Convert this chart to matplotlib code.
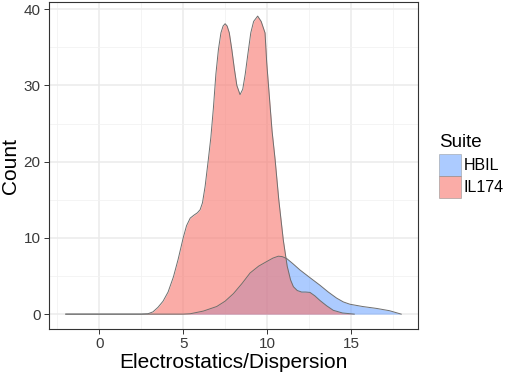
import matplotlib
matplotlib.use("Agg")
from matplotlib import pyplot as plt
from matplotlib.patches import Patch
from matplotlib.ticker import MultipleLocator

plt.rcParams['font.family'] = ['Liberation Sans', 'DejaVu Sans']

# IL174 curve (x, count)
il_x = [-2.0, 2.5, 2.9, 3.2, 3.5, 3.8, 4.1, 4.42, 4.7, 5.0, 5.2, 5.42, 5.65, 5.85,
        6.01, 6.15, 6.31, 6.5, 6.65, 6.8, 6.95, 7.1, 7.25, 7.38, 7.5, 7.62, 7.75,
        7.9, 8.05, 8.2, 8.39, 8.55, 8.7, 8.85, 9.03, 9.2, 9.44, 9.65, 9.88, 9.98,
        10.15, 10.3, 10.48, 10.7, 10.97, 11.2, 11.4, 11.57, 11.8, 12.06, 12.3,
        12.56, 12.85, 13.15, 13.55, 13.95, 14.5, 15.2]
il_y = [0.0, 0.0, 0.05, 0.3, 0.9, 1.7, 2.9, 4.9, 7.2, 10.0, 11.6, 12.6, 13.0, 13.3,
        13.7, 14.6, 16.8, 20.3, 23.2, 27.0, 31.5, 34.7, 36.9, 37.8, 38.1, 37.8, 36.9,
        34.7, 32.2, 30.0, 28.8, 29.5, 31.5, 34.0, 36.9, 38.4, 39.1, 38.4, 36.9, 33.0,
        28.2, 24.0, 20.3, 15.0, 9.7, 6.3, 4.5, 3.6, 3.1, 2.9, 2.9,
        2.85, 2.4, 1.8, 1.1, 0.5, 0.15, 0.0]

# HBIL curve (x, count)
hb_x = [-2.0, 5.0, 5.42, 6.2, 7.0, 7.5, 8.0, 8.5, 8.99, 9.5, 9.98, 10.35, 10.67,
        10.9, 11.17, 11.55, 11.96, 12.55, 13.15, 13.65, 14.15, 14.55, 14.94, 15.7,
        16.53, 17.3, 18.0]
hb_y = [0.0, 0.0, 0.05, 0.4, 1.0, 1.7, 2.7, 4.0, 5.4, 6.3, 6.9, 7.35, 7.6,
        7.55, 7.3, 6.6, 5.8, 4.8, 3.8, 2.9, 2.1, 1.6, 1.3, 1.0,
        0.75, 0.45, 0.0]

suites = ['HBIL', 'IL174']
fills = ['#619CFF', '#F8766D']
alphas = [0.52, 0.6]

fig = plt.figure(figsize=(5.1, 3.76), dpi=100)
ax = fig.add_axes([49 / 510, 1 - 329 / 376, (418 - 49) / 510, (329 - 2) / 376])

ax.fill_between(hb_x, hb_y, color=fills[0], alpha=alphas[0], linewidth=0, zorder=2)
ax.plot(hb_x, hb_y, color='#6E6E6E', linewidth=0.7, zorder=3)
ax.fill_between(il_x, il_y, color=fills[1], alpha=alphas[1], linewidth=0, zorder=2)
ax.plot(il_x, il_y, color='#6E6E6E', linewidth=0.7, zorder=3)

ax.set_xlim(-3, 19)
ax.set_ylim(-1.95, 40.95)
ax.xaxis.set_major_locator(MultipleLocator(5))
ax.xaxis.set_minor_locator(MultipleLocator(2.5))
ax.yaxis.set_major_locator(MultipleLocator(10))
ax.yaxis.set_minor_locator(MultipleLocator(5))
ax.grid(which='major', color='#EBEBEB', linewidth=1.1, zorder=0)
ax.grid(which='minor', color='#F2F2F2', linewidth=0.6, zorder=0)
ax.set_axisbelow(True)
ax.tick_params(which='major', length=3.5, color='#333333', labelsize=11,
               labelcolor='#3A3A3A', width=0.7, pad=2.5)
ax.tick_params(which='minor', length=0)
for s in ax.spines.values():
    s.set_color('#333333')
    s.set_linewidth(0.8)

ax.set_xlabel('Electrostatics/Dispersion', fontsize=15, labelpad=1)
ax.set_ylabel('Count', fontsize=15, labelpad=3)

handles = [Patch(facecolor=c, alpha=a, edgecolor='#8A8A8A', linewidth=0.6)
           for c, a in zip(fills, alphas)]
leg = fig.legend(handles, suites, title='Suite', loc='upper left',
                 bbox_to_anchor=(439 / 510, 1 - 134 / 376), frameon=False,
                 fontsize=11.5, title_fontsize=13.5, handlelength=1.36, handleheight=1.74,
                 handletextpad=0.2, labelspacing=0.0, borderpad=0.0, borderaxespad=0)
leg._legend_box.align = 'left'
leg._legend_box.sep = 2

fig.savefig('out.png', dpi=100)
